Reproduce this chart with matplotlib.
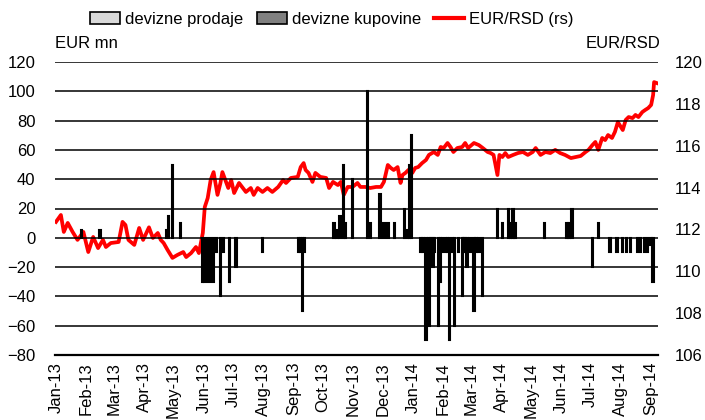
import numpy as np
import pandas as pd
import matplotlib
matplotlib.use('Agg')
import matplotlib.pyplot as plt
import matplotlib.dates as mdates
from matplotlib.patches import Patch
from matplotlib.lines import Line2D

plt.rcParams['font.family'] = ['Liberation Sans', 'DejaVu Sans']

START = pd.Timestamp('2013-01-01')

# EUR/RSD kurs (desna osa), dan od 1.1.2013
fx_day = [0, 5, 8, 12, 17, 22, 28, 33, 38, 43, 48, 51, 56, 64, 68, 71, 74, 80, 85, 89,
          95, 99, 104, 107, 110, 114, 119, 124, 130, 133, 138, 143, 146, 150, 152, 155,
          158, 161, 165, 168, 170, 176, 179, 182, 187, 194, 199, 202, 206, 211, 216, 221,
          227, 232, 235, 240, 247, 250, 253, 255, 258, 262, 265, 270, 276, 279, 283, 288,
          291, 294, 298, 303, 308, 311, 316, 321, 327, 332, 335, 339, 342, 345, 349, 352,
          354, 357, 360, 364, 367, 370, 374, 378, 381, 386, 390, 393, 396, 400, 403, 406,
          410, 415, 418, 421, 427, 432, 436, 441, 444, 447, 451, 453, 456, 459, 462, 467,
          472, 477, 482, 487, 490, 495, 500, 505, 510, 515, 520, 526, 531, 536, 541, 544,
          548, 551, 554, 558, 561, 564, 568, 571, 574, 579, 582, 585, 589, 592, 595, 599,
          602, 605, 608, 610, 611, 614]
fx_rate = [112.36, 112.69, 111.88, 112.31, 111.88, 111.50, 111.88, 110.92, 111.64, 111.11,
           111.50, 111.16, 111.35, 111.40, 112.36, 112.21, 111.50, 111.26, 112.07, 111.50,
           112.10, 111.59, 111.83, 111.50, 111.35, 111.02, 110.64, 110.78, 110.92, 110.68,
           110.87, 111.16, 110.87, 111.83, 113.07, 113.50, 114.36, 114.74, 113.65, 114.22,
           114.74, 113.98, 114.36, 113.74, 114.22, 113.79, 113.98, 113.65, 113.98, 113.79,
           113.98, 113.79, 114.03, 114.36, 114.22, 114.46, 114.51, 114.98, 115.17, 114.84,
           114.70, 114.27, 114.70, 114.51, 114.46, 113.98, 114.27, 114.12, 114.27, 113.65,
           114.03, 114.03, 114.22, 114.03, 114.03, 113.98, 114.03, 114.03, 114.27, 115.08,
           114.94, 114.84, 114.98, 114.22, 114.60, 114.70, 114.84, 114.70, 114.94, 114.98,
           115.17, 115.32, 115.56, 115.70, 115.56, 115.94, 115.89, 116.13, 115.94, 115.70,
           115.89, 115.94, 116.13, 115.89, 116.13, 116.03, 115.89, 115.70, 115.65, 115.56,
           114.60, 115.56, 115.46, 115.65, 115.46, 115.56, 115.65, 115.70, 115.56, 115.70,
           115.89, 115.56, 115.70, 115.65, 115.80, 115.65, 115.56, 115.41, 115.46, 115.51,
           115.70, 115.80, 116.03, 116.18, 115.80, 116.37, 116.27, 116.51, 116.37, 116.66,
           117.13, 116.75, 117.23, 117.37, 117.32, 117.47, 117.37, 117.61, 117.71, 117.80,
           117.95, 118.42, 119.04, 118.99]

# devizne kupovine (EUR mn)
buy_day = [26, 45, 113, 115, 119, 127, 284, 287, 290, 294, 296, 303, 318, 321, 331, 335,
           339, 346, 356, 359, 361, 363, 451, 456, 462, 464, 467, 469, 499, 522, 524, 527, 554]
buy_val = [5, 5, 5, 15, 50, 10, 10, 5, 15, 50, 10, 40, 100, 10, 30, 10,
           10, 10, 20, 5, 50, 70, 20, 10, 20, 10, 20, 10, 10, 10, 10, 20, 10]

# devizne prodaje (EUR mn)
sell_day = [150, 152, 155, 158, 161, 164, 168, 171, 177, 184, 211, 248, 250, 252, 254,
            373, 375, 378, 381, 383, 385, 387, 391, 393, 395, 398, 400, 402, 405, 407, 411,
            415, 416, 418, 420, 423, 427, 429, 432, 436, 548, 566, 573, 579, 583, 587, 594,
            597, 601, 604, 608, 610]
sell_val = [-30, -30, -30, -30, -30, -10, -40, -10, -30, -20, -10, -10, -10, -50, -10,
            -10, -10, -70, -60, -10, -20, -10, -60, -30, -10, -10, -10, -70, -10, -60, -10,
            -40, -10, -10, -20, -10, -50, -10, -10, -40, -20, -10, -10, -10, -10, -10, -10,
            -10, -10, -10, -5, -30]


def to_dates(days):
    return START + pd.to_timedelta(days, unit='D')


fig = plt.figure(figsize=(7.05, 4.2), dpi=100)
ax = fig.add_axes([55 / 705, 1 - 355 / 420, 603 / 705, 293 / 420])
ax2 = ax.twinx()

# kurs na sekundarnoj osi, stubici preko njega
ax2.plot(to_dates(fx_day), fx_rate, color='#ff0000', lw=2.7, solid_joinstyle='round')
ax.set_zorder(ax2.get_zorder() + 1)
ax.patch.set_visible(False)

ax.bar(to_dates(sell_day), sell_val, width=1.4, color='#d9d9d9', edgecolor='black',
       linewidth=1.5, zorder=3)
ax.bar(to_dates(buy_day), buy_val, width=1.4, color='#808080', edgecolor='black',
       linewidth=1.5, zorder=3)

ax.set_ylim(-80, 120)
ax.set_yticks(np.arange(-80, 121, 20))
ax2.set_ylim(106, 120)
ax2.set_yticks(np.arange(106, 121, 2))
ax.set_xlim(to_dates([-1])[0], to_dates([615])[0])

ax.yaxis.grid(True, color='black', lw=1.1)
ax.set_axisbelow(True)
for a in (ax, ax2):
    for s in a.spines.values():
        s.set_visible(False)
ax.spines['bottom'].set_visible(True)
ax.spines['bottom'].set_linewidth(1.6)

ax.xaxis.set_major_locator(mdates.MonthLocator())
ax.xaxis.set_major_formatter(mdates.DateFormatter('%b-%y'))
ax.tick_params(axis='x', length=0, labelsize=12, rotation=90, pad=5)
ax.tick_params(axis='y', length=0, labelsize=12, pad=14)
ax2.tick_params(axis='y', length=0, labelsize=12, pad=12)

fig.text(55 / 705, 1 - 44 / 420, 'EUR mn', fontsize=12, va='center', ha='left')
fig.text(660 / 705, 1 - 44 / 420, 'EUR/RSD', fontsize=12, va='center', ha='right')

handles = [Patch(facecolor='#d9d9d9', edgecolor='black', lw=1.2),
           Patch(facecolor='#808080', edgecolor='black', lw=1.2),
           Line2D([], [], color='#ff0000', lw=3)]
labels = ['devizne prodaje', 'devizne kupovine', 'EUR/RSD (rs)']
fig.legend(handles, labels, loc='upper center', bbox_to_anchor=(332 / 705, 1.0),
           ncol=3, frameon=False, fontsize=12, handlelength=1.8, handleheight=0.7,
           handletextpad=0.3, columnspacing=0.8, borderaxespad=0.3)

fig.savefig('out.png', dpi=100)
